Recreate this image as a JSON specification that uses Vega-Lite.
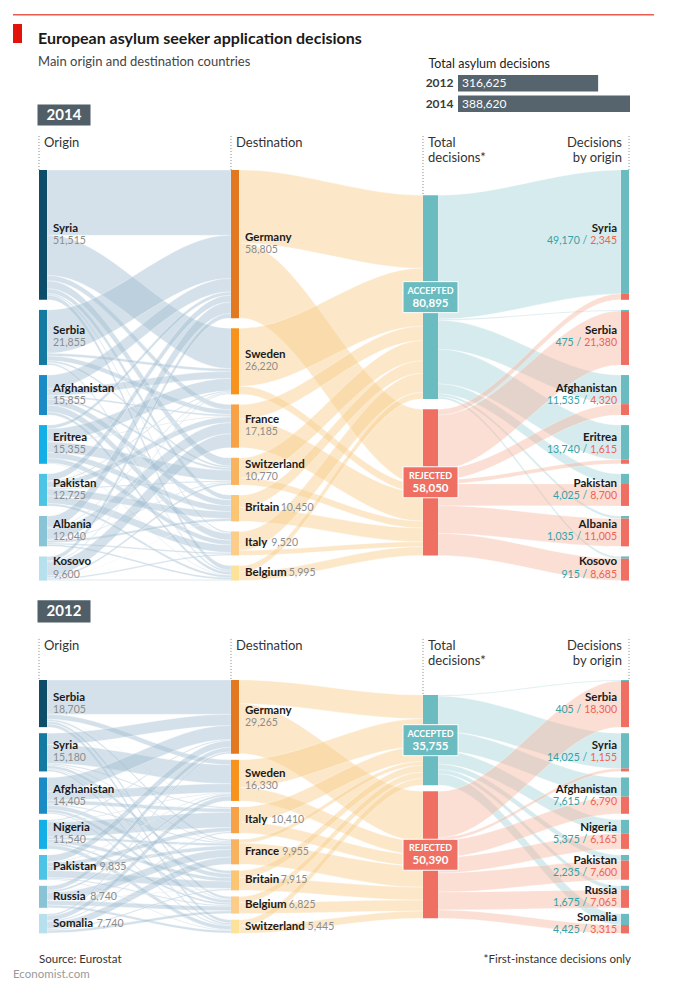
{
"$schema": "https://vega.github.io/schema/vega-lite/v6.json",
"padding": {"left": 0, "top": 12, "right": 0, "bottom": 0},
"background": "#ffffff",
"bounds": "flush",
"spacing": 0,
"config": {
  "view": {"stroke": null},
  "font": "Lato",
  "text": {"font": "Lato"},
  "title": {"font": "Lato", "subtitleFont": "Lato"},
  "axis": {"labelFont": "Lato", "titleFont": "Lato"}
},
"datasets": {
"l14": [
{"s":0,"src":"Syria","so":0,"tgt":"Germany","to":0,"v":25900},
{"s":0,"src":"Syria","so":0,"tgt":"Sweden","to":1,"v":16000},
{"s":0,"src":"Syria","so":0,"tgt":"France","to":2,"v":2100},
{"s":0,"src":"Syria","so":0,"tgt":"Switzerland","to":3,"v":3200},
{"s":0,"src":"Syria","so":0,"tgt":"Britain","to":4,"v":1900},
{"s":0,"src":"Syria","so":0,"tgt":"Italy","to":5,"v":600},
{"s":0,"src":"Syria","so":0,"tgt":"Belgium","to":6,"v":1815},
{"s":0,"src":"Serbia","so":1,"tgt":"Germany","to":0,"v":17200},
{"s":0,"src":"Serbia","so":1,"tgt":"Sweden","to":1,"v":1100},
{"s":0,"src":"Serbia","so":1,"tgt":"France","to":2,"v":1900},
{"s":0,"src":"Serbia","so":1,"tgt":"Switzerland","to":3,"v":800},
{"s":0,"src":"Serbia","so":1,"tgt":"Britain","to":4,"v":50},
{"s":0,"src":"Serbia","so":1,"tgt":"Italy","to":5,"v":150},
{"s":0,"src":"Serbia","so":1,"tgt":"Belgium","to":6,"v":655},
{"s":0,"src":"Afghanistan","so":2,"tgt":"Germany","to":0,"v":5300},
{"s":0,"src":"Afghanistan","so":2,"tgt":"Sweden","to":1,"v":2800},
{"s":0,"src":"Afghanistan","so":2,"tgt":"France","to":2,"v":700},
{"s":0,"src":"Afghanistan","so":2,"tgt":"Switzerland","to":3,"v":900},
{"s":0,"src":"Afghanistan","so":2,"tgt":"Britain","to":4,"v":2300},
{"s":0,"src":"Afghanistan","so":2,"tgt":"Italy","to":5,"v":2700},
{"s":0,"src":"Afghanistan","so":2,"tgt":"Belgium","to":6,"v":1155},
{"s":0,"src":"Eritrea","so":3,"tgt":"Germany","to":0,"v":1400},
{"s":0,"src":"Eritrea","so":3,"tgt":"Sweden","to":1,"v":5000},
{"s":0,"src":"Eritrea","so":3,"tgt":"France","to":2,"v":300},
{"s":0,"src":"Eritrea","so":3,"tgt":"Switzerland","to":3,"v":4200},
{"s":0,"src":"Eritrea","so":3,"tgt":"Britain","to":4,"v":2300},
{"s":0,"src":"Eritrea","so":3,"tgt":"Italy","to":5,"v":1900},
{"s":0,"src":"Eritrea","so":3,"tgt":"Belgium","to":6,"v":255},
{"s":0,"src":"Pakistan","so":4,"tgt":"Germany","to":0,"v":2700},
{"s":0,"src":"Pakistan","so":4,"tgt":"Sweden","to":1,"v":500},
{"s":0,"src":"Pakistan","so":4,"tgt":"France","to":2,"v":2300},
{"s":0,"src":"Pakistan","so":4,"tgt":"Switzerland","to":3,"v":500},
{"s":0,"src":"Pakistan","so":4,"tgt":"Britain","to":4,"v":2800},
{"s":0,"src":"Pakistan","so":4,"tgt":"Italy","to":5,"v":3000},
{"s":0,"src":"Pakistan","so":4,"tgt":"Belgium","to":6,"v":925},
{"s":0,"src":"Albania","so":5,"tgt":"Germany","to":0,"v":4500},
{"s":0,"src":"Albania","so":5,"tgt":"Sweden","to":1,"v":400},
{"s":0,"src":"Albania","so":5,"tgt":"France","to":2,"v":4400},
{"s":0,"src":"Albania","so":5,"tgt":"Switzerland","to":3,"v":370},
{"s":0,"src":"Albania","so":5,"tgt":"Britain","to":4,"v":1000},
{"s":0,"src":"Albania","so":5,"tgt":"Italy","to":5,"v":600},
{"s":0,"src":"Albania","so":5,"tgt":"Belgium","to":6,"v":770},
{"s":0,"src":"Kosovo","so":6,"tgt":"Germany","to":0,"v":1805},
{"s":0,"src":"Kosovo","so":6,"tgt":"Sweden","to":1,"v":420},
{"s":0,"src":"Kosovo","so":6,"tgt":"France","to":2,"v":5485},
{"s":0,"src":"Kosovo","so":6,"tgt":"Switzerland","to":3,"v":800},
{"s":0,"src":"Kosovo","so":6,"tgt":"Britain","to":4,"v":100},
{"s":0,"src":"Kosovo","so":6,"tgt":"Italy","to":5,"v":570},
{"s":0,"src":"Kosovo","so":6,"tgt":"Belgium","to":6,"v":420},
{"s":1,"src":"Germany","so":0,"tgt":"Accepted","to":0,"v":29000},
{"s":1,"src":"Germany","so":0,"tgt":"Rejected","to":1,"v":29805},
{"s":1,"src":"Sweden","so":1,"tgt":"Accepted","to":0,"v":23000},
{"s":1,"src":"Sweden","so":1,"tgt":"Rejected","to":1,"v":3220},
{"s":1,"src":"France","so":2,"tgt":"Accepted","to":0,"v":5800},
{"s":1,"src":"France","so":2,"tgt":"Rejected","to":1,"v":11385},
{"s":1,"src":"Switzerland","so":3,"tgt":"Accepted","to":0,"v":8000},
{"s":1,"src":"Switzerland","so":3,"tgt":"Rejected","to":1,"v":2770},
{"s":1,"src":"Britain","so":4,"tgt":"Accepted","to":0,"v":5000},
{"s":1,"src":"Britain","so":4,"tgt":"Rejected","to":1,"v":5450},
{"s":1,"src":"Italy","so":5,"tgt":"Accepted","to":0,"v":7500},
{"s":1,"src":"Italy","so":5,"tgt":"Rejected","to":1,"v":2020},
{"s":1,"src":"Belgium","so":6,"tgt":"Accepted","to":0,"v":2595},
{"s":1,"src":"Belgium","so":6,"tgt":"Rejected","to":1,"v":3400},
{"s":2,"src":"Accepted","so":0,"tgt":"Syria","to":0,"v":49170},
{"s":2,"src":"Accepted","so":0,"tgt":"Serbia","to":1,"v":475},
{"s":2,"src":"Accepted","so":0,"tgt":"Afghanistan","to":2,"v":11535},
{"s":2,"src":"Accepted","so":0,"tgt":"Eritrea","to":3,"v":13740},
{"s":2,"src":"Accepted","so":0,"tgt":"Pakistan","to":4,"v":4025},
{"s":2,"src":"Accepted","so":0,"tgt":"Albania","to":5,"v":1035},
{"s":2,"src":"Accepted","so":0,"tgt":"Kosovo","to":6,"v":915},
{"s":2,"src":"Rejected","so":1,"tgt":"Syria","to":0,"v":2345},
{"s":2,"src":"Rejected","so":1,"tgt":"Serbia","to":1,"v":21380},
{"s":2,"src":"Rejected","so":1,"tgt":"Afghanistan","to":2,"v":4320},
{"s":2,"src":"Rejected","so":1,"tgt":"Eritrea","to":3,"v":1615},
{"s":2,"src":"Rejected","so":1,"tgt":"Pakistan","to":4,"v":8700},
{"s":2,"src":"Rejected","so":1,"tgt":"Albania","to":5,"v":11005},
{"s":2,"src":"Rejected","so":1,"tgt":"Kosovo","to":6,"v":8685}
],
"l12": [
{"s":0,"src":"Serbia","so":0,"tgt":"Germany","to":0,"v":13600},
{"s":0,"src":"Serbia","so":0,"tgt":"Sweden","to":1,"v":2000},
{"s":0,"src":"Serbia","so":0,"tgt":"Italy","to":2,"v":100},
{"s":0,"src":"Serbia","so":0,"tgt":"France","to":3,"v":700},
{"s":0,"src":"Serbia","so":0,"tgt":"Britain","to":4,"v":50},
{"s":0,"src":"Serbia","so":0,"tgt":"Belgium","to":5,"v":1000},
{"s":0,"src":"Serbia","so":0,"tgt":"Switzerland","to":6,"v":1255},
{"s":0,"src":"Syria","so":1,"tgt":"Germany","to":0,"v":4500},
{"s":0,"src":"Syria","so":1,"tgt":"Sweden","to":1,"v":7500},
{"s":0,"src":"Syria","so":1,"tgt":"Italy","to":2,"v":500},
{"s":0,"src":"Syria","so":1,"tgt":"France","to":3,"v":400},
{"s":0,"src":"Syria","so":1,"tgt":"Britain","to":4,"v":1200},
{"s":0,"src":"Syria","so":1,"tgt":"Belgium","to":5,"v":400},
{"s":0,"src":"Syria","so":1,"tgt":"Switzerland","to":6,"v":680},
{"s":0,"src":"Afghanistan","so":2,"tgt":"Germany","to":0,"v":5500},
{"s":0,"src":"Afghanistan","so":2,"tgt":"Sweden","to":1,"v":3500},
{"s":0,"src":"Afghanistan","so":2,"tgt":"Italy","to":2,"v":1500},
{"s":0,"src":"Afghanistan","so":2,"tgt":"France","to":3,"v":500},
{"s":0,"src":"Afghanistan","so":2,"tgt":"Britain","to":4,"v":1700},
{"s":0,"src":"Afghanistan","so":2,"tgt":"Belgium","to":5,"v":1205},
{"s":0,"src":"Afghanistan","so":2,"tgt":"Switzerland","to":6,"v":500},
{"s":0,"src":"Nigeria","so":3,"tgt":"Germany","to":0,"v":500},
{"s":0,"src":"Nigeria","so":3,"tgt":"Sweden","to":1,"v":300},
{"s":0,"src":"Nigeria","so":3,"tgt":"Italy","to":2,"v":6000},
{"s":0,"src":"Nigeria","so":3,"tgt":"France","to":3,"v":1000},
{"s":0,"src":"Nigeria","so":3,"tgt":"Britain","to":4,"v":1400},
{"s":0,"src":"Nigeria","so":3,"tgt":"Belgium","to":5,"v":800},
{"s":0,"src":"Nigeria","so":3,"tgt":"Switzerland","to":6,"v":1540},
{"s":0,"src":"Pakistan","so":4,"tgt":"Germany","to":0,"v":2700},
{"s":0,"src":"Pakistan","so":4,"tgt":"Sweden","to":1,"v":300},
{"s":0,"src":"Pakistan","so":4,"tgt":"Italy","to":2,"v":1700},
{"s":0,"src":"Pakistan","so":4,"tgt":"France","to":3,"v":1500},
{"s":0,"src":"Pakistan","so":4,"tgt":"Britain","to":4,"v":2800},
{"s":0,"src":"Pakistan","so":4,"tgt":"Belgium","to":5,"v":500},
{"s":0,"src":"Pakistan","so":4,"tgt":"Switzerland","to":6,"v":335},
{"s":0,"src":"Russia","so":5,"tgt":"Germany","to":0,"v":1800},
{"s":0,"src":"Russia","so":5,"tgt":"Sweden","to":1,"v":800},
{"s":0,"src":"Russia","so":5,"tgt":"Italy","to":2,"v":100},
{"s":0,"src":"Russia","so":5,"tgt":"France","to":3,"v":3000},
{"s":0,"src":"Russia","so":5,"tgt":"Britain","to":4,"v":200},
{"s":0,"src":"Russia","so":5,"tgt":"Belgium","to":5,"v":1800},
{"s":0,"src":"Russia","so":5,"tgt":"Switzerland","to":6,"v":1040},
{"s":0,"src":"Somalia","so":6,"tgt":"Germany","to":0,"v":665},
{"s":0,"src":"Somalia","so":6,"tgt":"Sweden","to":1,"v":1930},
{"s":0,"src":"Somalia","so":6,"tgt":"Italy","to":2,"v":510},
{"s":0,"src":"Somalia","so":6,"tgt":"France","to":3,"v":2855},
{"s":0,"src":"Somalia","so":6,"tgt":"Britain","to":4,"v":565},
{"s":0,"src":"Somalia","so":6,"tgt":"Belgium","to":5,"v":1120},
{"s":0,"src":"Somalia","so":6,"tgt":"Switzerland","to":6,"v":95},
{"s":1,"src":"Germany","so":0,"tgt":"Accepted","to":0,"v":9400},
{"s":1,"src":"Germany","so":0,"tgt":"Rejected","to":1,"v":19865},
{"s":1,"src":"Sweden","so":1,"tgt":"Accepted","to":0,"v":11000},
{"s":1,"src":"Sweden","so":1,"tgt":"Rejected","to":1,"v":5330},
{"s":1,"src":"Italy","so":2,"tgt":"Accepted","to":0,"v":6000},
{"s":1,"src":"Italy","so":2,"tgt":"Rejected","to":1,"v":4410},
{"s":1,"src":"France","so":3,"tgt":"Accepted","to":0,"v":1500},
{"s":1,"src":"France","so":3,"tgt":"Rejected","to":1,"v":8455},
{"s":1,"src":"Britain","so":4,"tgt":"Accepted","to":0,"v":2800},
{"s":1,"src":"Britain","so":4,"tgt":"Rejected","to":1,"v":5115},
{"s":1,"src":"Belgium","so":5,"tgt":"Accepted","to":0,"v":2500},
{"s":1,"src":"Belgium","so":5,"tgt":"Rejected","to":1,"v":4325},
{"s":1,"src":"Switzerland","so":6,"tgt":"Accepted","to":0,"v":2555},
{"s":1,"src":"Switzerland","so":6,"tgt":"Rejected","to":1,"v":2890},
{"s":2,"src":"Accepted","so":0,"tgt":"Serbia","to":0,"v":405},
{"s":2,"src":"Accepted","so":0,"tgt":"Syria","to":1,"v":14025},
{"s":2,"src":"Accepted","so":0,"tgt":"Afghanistan","to":2,"v":7615},
{"s":2,"src":"Accepted","so":0,"tgt":"Nigeria","to":3,"v":5375},
{"s":2,"src":"Accepted","so":0,"tgt":"Pakistan","to":4,"v":2235},
{"s":2,"src":"Accepted","so":0,"tgt":"Russia","to":5,"v":1675},
{"s":2,"src":"Accepted","so":0,"tgt":"Somalia","to":6,"v":4425},
{"s":2,"src":"Rejected","so":1,"tgt":"Serbia","to":0,"v":18300},
{"s":2,"src":"Rejected","so":1,"tgt":"Syria","to":1,"v":1155},
{"s":2,"src":"Rejected","so":1,"tgt":"Afghanistan","to":2,"v":6790},
{"s":2,"src":"Rejected","so":1,"tgt":"Nigeria","to":3,"v":6165},
{"s":2,"src":"Rejected","so":1,"tgt":"Pakistan","to":4,"v":7600},
{"s":2,"src":"Rejected","so":1,"tgt":"Russia","to":5,"v":7065},
{"s":2,"src":"Rejected","so":1,"tgt":"Somalia","to":6,"v":3315}
]
},
"vconcat": [
{"hconcat": [
  {"width": 13, "height": 1.5, "data": {"values": [{}]}, "mark": {"type": "point", "opacity": 0}, "encoding": {}},
  {"width": 641, "height": 1.5, "view": {"fill": "#ec5b50", "stroke": null}, "data": {"values": [{}]}, "mark": {"type": "point", "opacity": 0}, "encoding": {}}
 ], "spacing": 0, "bounds": "flush"},
{"width": 10, "height": 10, "data": {"values": [{}]}, "mark": {"type": "point", "opacity": 0}, "encoding": {}},
{"hconcat": [
  {"width": 13, "height": 19, "data": {"values": [{}]}, "mark": {"type": "point", "opacity": 0}, "encoding": {}},
  {"width": 9, "height": 19, "view": {"fill": "#e3120b", "stroke": null}, "data": {"values": [{}]}, "mark": {"type": "point", "opacity": 0}, "encoding": {}}
 ], "spacing": 0, "bounds": "flush"},
{"width": 673, "height": 90,
 "data": {"values": [{"yr": "2012", "t": 316625}, {"yr": "2014", "t": 388620}]},
 "title": {"text": "European asylum seeker application decisions", "subtitle": "Main origin and destination countries", "anchor": "start", "frame": "group", "orient": "top", "offset": 0, "dx": 38, "dy": 45, "fontSize": 16, "fontWeight": "bold", "color": "#1a1a1a", "subtitleFontSize": 13, "subtitleColor": "#444444", "subtitlePadding": 9},
 "encoding": {"y": {"field": "yr", "type": "nominal", "scale": {"domain": ["2012", "2014"], "range": [51, 88], "paddingInner": 0.2, "paddingOuter": 0},
    "axis": {"orient": "left", "offset": -456, "domain": false, "ticks": false, "tickSize": 0, "labelPadding": 3, "labelFontWeight": "bold", "labelFontSize": 12, "labelColor": "#3a3a3a", "title": "Total asylum decisions", "titleAngle": 0, "titleAlign": "left", "titleBaseline": "middle", "titleX": -28, "titleY": 39, "titleFontSize": 12.5, "titleFontWeight": "normal", "titleColor": "#222222"}}},
 "layer": [
   {"mark": {"type": "bar", "color": "#56646d"}, "encoding": {"x": {"field": "t", "type": "quantitative", "scale": {"domain": [0, 388620], "range": [458, 630], "nice": false, "zero": true}, "axis": null}}},
   {"mark": {"type": "text", "align": "left", "baseline": "middle", "dx": 4, "color": "#ffffff", "fontSize": 12}, "encoding": {"x": {"datum": 0, "type": "quantitative"}, "text": {"field": "t", "type": "quantitative", "format": ","}}}
 ]},
{"width": 673, "height": 476,
 "data": {"name": "l14"},
 "transform": [
  {"window": [{"op": "sum", "field": "v", "as": "cs"}], "groupby": ["s"], "sort": [{"field": "so"}, {"field": "to"}]},
  {"window": [{"op": "sum", "field": "v", "as": "ct"}], "groupby": ["s"], "sort": [{"field": "to"}, {"field": "so"}]},
  {"calculate": "datum.cs - datum.v + datum.so * 4000 + (datum.s == 2 ? 10000 : 0)", "as": "a0"},
  {"calculate": "datum.a0 + datum.v", "as": "a1"},
  {"calculate": "datum.ct - datum.v + datum.to * 4000 + (datum.s == 1 ? 10000 : 0)", "as": "b0"},
  {"calculate": "datum.b0 + datum.v", "as": "b1"}
 ],
 "layer": [
  {"transform": [
     {"calculate": "[0, 1, 2, 3]", "as": "p"},
     {"flatten": ["p"]},
     {"calculate": "datum.s + (datum.p == 0 ? 0.1 : datum.p == 1 ? 0.11 : datum.p == 2 ? 0.99 : 1)", "as": "fx"},
     {"calculate": "datum.p < 2 ? datum.a0 : datum.b0", "as": "fy"},
     {"calculate": "datum.p < 2 ? datum.a1 : datum.b1", "as": "fy2"},
     {"calculate": "datum.s + '|' + datum.src + '|' + datum.tgt", "as": "id"},
     {"calculate": "datum.s == 2 ? datum.src : 'stage' + datum.s", "as": "fc"}
   ],
   "mark": {"type": "area", "interpolate": "monotone", "fillOpacity": 0.45, "stroke": "#ffffff", "strokeWidth": 0.5, "strokeOpacity": 0.6},
   "encoding": {
     "x": {"field": "fx", "type": "quantitative", "scale": {"domain": [0, 0.1, 1, 1.1, 2, 2.1, 3, 3.1], "range": [39, 47, 231, 239, 423, 438, 621, 629], "nice": false, "zero": false}, "axis": null},
     "y": {"field": "fy", "type": "quantitative", "scale": {"domain": [0, 160000], "range": [56, 459.2], "nice": false, "zero": false}, "axis": null, "stack": null},
     "y2": {"field": "fy2"},
     "detail": {"field": "id", "type": "nominal"},
     "fill": {"field": "fc", "type": "nominal", "scale": {"domain": ["stage0", "stage1", "Accepted", "Rejected"], "range": ["#9fbdd0", "#f8cb88", "#a4d3d7", "#f6b69f"]}, "legend": null}
   }},
  {"transform": [
     {"aggregate": [{"op": "min", "field": "a0", "as": "y0"}, {"op": "max", "field": "a1", "as": "y1"}], "groupby": ["s", "src", "so"]},
     {"calculate": "datum.s + 0.1", "as": "xe"},
     {"calculate": "datum.s * 10 + datum.so", "as": "ck"}
   ],
   "mark": {"type": "rect"},
   "encoding": {
     "x": {"field": "s", "type": "quantitative", "axis": null},
     "x2": {"field": "xe"},
     "y": {"field": "y0", "type": "quantitative", "axis": null},
     "y2": {"field": "y1"},
     "color": {"field": "ck", "type": "nominal", "scale": {"domain": [0, 1, 2, 3, 4, 5, 6, 10, 11, 12, 13, 14, 15, 16, 20, 21], "range": ["#0d4d69", "#157aa1", "#1b8bc5", "#13afe6", "#4dc3e5", "#88c4d6", "#b7e0ef", "#e2781f", "#f7931d", "#f8a247", "#f9b35e", "#fbc574", "#fccd88", "#fde299", "#6abcc0", "#ef7062"]}, "legend": null}
   }},
  {"transform": [{"filter": "datum.s == 2"}, {"calculate": "3", "as": "x3"}, {"calculate": "3.1", "as": "x3e"}, {"calculate": "datum.src == 'Accepted' ? 20 : 21", "as": "ck"}],
   "mark": {"type": "rect"},
   "encoding": {
     "x": {"field": "x3", "type": "quantitative", "axis": null},
     "x2": {"field": "x3e"},
     "y": {"field": "b0", "type": "quantitative", "axis": null},
     "y2": {"field": "b1"},
     "color": {"field": "ck", "type": "nominal", "legend": null}
   }},
  {"transform": [
     {"filter": "datum.s == 2"},
     {"aggregate": [{"op": "min", "field": "a0", "as": "y0"}, {"op": "max", "field": "a1", "as": "y1"}, {"op": "sum", "field": "v", "as": "tot"}], "groupby": ["src"]},
     {"calculate": "(datum.y0 + datum.y1) / 2", "as": "ym"},
     {"calculate": "upper(datum.src)", "as": "lab"},
     {"calculate": "2.05", "as": "bx"},
     {"calculate": "datum.src == 'Accepted' ? 20 : 21", "as": "ck"}
   ],
   "encoding": {"x": {"field": "bx", "type": "quantitative", "axis": null}, "y": {"field": "ym", "type": "quantitative", "axis": null}},
   "layer": [
     {"mark": {"type": "point", "shape": "M-1,-0.5636H1V0.5636H-1Z", "size": 3025, "filled": true, "opacity": 1, "stroke": "#ffffff", "strokeWidth": 1}, "encoding": {"color": {"field": "ck", "type": "nominal", "legend": null}}},
     {"mark": {"type": "text", "baseline": "middle", "dy": -6.5, "fontSize": 9, "fontWeight": "bold", "color": "#ffffff"}, "encoding": {"text": {"field": "lab", "type": "nominal"}}},
     {"mark": {"type": "text", "baseline": "middle", "dy": 6.5, "fontSize": 11.5, "fontWeight": "bold", "color": "#ffffff"}, "encoding": {"text": {"field": "tot", "type": "quantitative", "format": ","}}}
   ]},
  {"transform": [
     {"filter": "datum.s < 2"},
     {"aggregate": [{"op": "min", "field": "a0", "as": "y0"}, {"op": "max", "field": "a1", "as": "y1"}, {"op": "sum", "field": "v", "as": "tot"}], "groupby": ["s", "src"]},
     {"calculate": "datum.s == 0 || datum.tot > 10600", "as": "two"},
     {"calculate": "(datum.y0 + datum.y1) / 2 - (datum.two ? 2400 : 0)", "as": "yn"},
     {"calculate": "(datum.y0 + datum.y1) / 2 + (datum.two ? 2400 : 0)", "as": "yv"},
     {"calculate": "length(datum.src) - length(replace(datum.src, regexp('[iltfjrI]', 'g'), ''))", "as": "nn"},
     {"calculate": "length(datum.src) - length(replace(datum.src, regexp('[mwMW]', 'g'), ''))", "as": "nm"},
     {"calculate": "datum.nn * 3.45 + (length(datum.src) - datum.nn) * 5.95 + datum.nm * 3.1", "as": "w"},
     {"calculate": "datum.s + 0.1 + 6 / 204.44", "as": "xn"},
     {"calculate": "datum.two ? datum.xn : datum.xn + (datum.w + 4) / 204.44", "as": "xv"}
   ],
   "layer": [
     {"mark": {"type": "text", "align": "left", "baseline": "middle", "fontSize": 11.5, "fontWeight": "bold", "color": "#1a1a1a"}, "encoding": {"x": {"field": "xn", "type": "quantitative", "axis": null}, "y": {"field": "yn", "type": "quantitative", "axis": null}, "text": {"field": "src", "type": "nominal"}}},
     {"mark": {"type": "text", "align": "left", "baseline": "middle", "fontSize": 10.5, "color": "#8c8c8c"}, "encoding": {"x": {"field": "xv", "type": "quantitative", "axis": null}, "y": {"field": "yv", "type": "quantitative", "axis": null}, "text": {"field": "tot", "type": "quantitative", "format": ","}}}
   ]},
  {"transform": [
     {"filter": "datum.s == 2"},
     {"calculate": "datum.src == 'Accepted' ? datum.v : 0", "as": "va"},
     {"calculate": "datum.src == 'Rejected' ? datum.v : 0", "as": "vr"},
     {"aggregate": [{"op": "min", "field": "b0", "as": "y0"}, {"op": "max", "field": "b1", "as": "y1"}, {"op": "sum", "field": "va", "as": "A"}, {"op": "sum", "field": "vr", "as": "R"}], "groupby": ["tgt"]},
     {"calculate": "(datum.y0 + datum.y1) / 2 - 2400", "as": "yn"},
     {"calculate": "(datum.y0 + datum.y1) / 2 + 2400", "as": "yv"},
     {"calculate": "3 - 4 / 203.33", "as": "xr"},
     {"calculate": "length(toString(datum.R))", "as": "nd"},
     {"calculate": "3 - (4 + datum.nd * 6.09 + floor((datum.nd - 1) / 3) * 2.4 + 3) / 203.33", "as": "xa"},
     {"calculate": "format(datum.A, ',') + ' /'", "as": "ta"}
   ],
   "layer": [
     {"mark": {"type": "text", "align": "right", "baseline": "middle", "fontSize": 11.5, "fontWeight": "bold", "color": "#1a1a1a"}, "encoding": {"x": {"field": "xr", "type": "quantitative", "axis": null}, "y": {"field": "yn", "type": "quantitative", "axis": null}, "text": {"field": "tgt", "type": "nominal"}}},
     {"mark": {"type": "text", "align": "right", "baseline": "middle", "fontSize": 10.5, "color": "#33a2a6"}, "encoding": {"x": {"field": "xa", "type": "quantitative", "axis": null}, "y": {"field": "yv", "type": "quantitative", "axis": null}, "text": {"field": "ta", "type": "nominal"}}},
     {"mark": {"type": "text", "align": "right", "baseline": "middle", "fontSize": 10.5, "color": "#ee6352"}, "encoding": {"x": {"field": "xr", "type": "quantitative", "axis": null}, "y": {"field": "yv", "type": "quantitative", "axis": null}, "text": {"field": "R", "type": "quantitative", "format": ","}}}
   ]},
  {"transform": [
     {"aggregate": [{"op": "min", "field": "a0", "as": "top"}, {"op": "min", "field": "b0", "as": "tb"}], "groupby": ["s"]},
     {"calculate": "-13500", "as": "ht"},
     {"calculate": "datum.s == 2 ? [datum.s, 3.1] : [datum.s]", "as": "rx"},
     {"flatten": ["rx"]},
     {"calculate": "datum.rx > 3 ? datum.tb : datum.top", "as": "rt"}
   ],
   "mark": {"type": "rule", "color": "#8a8a8a", "strokeDash": [1, 2], "strokeWidth": 1},
   "encoding": {"x": {"field": "rx", "type": "quantitative", "axis": null}, "y": {"field": "ht", "type": "quantitative", "axis": null}, "y2": {"field": "rt"}}},
  {"data": {"values": [{"h": "Origin", "st": 0}, {"h": "Destination", "st": 1}, {"h": "Total\ndecisions*", "st": 2}]},
   "transform": [{"calculate": "-13500", "as": "ht"}],
   "mark": {"type": "text", "align": "left", "baseline": "top", "dx": 5, "dy": 1, "fontSize": 13, "lineBreak": "\n", "lineHeight": 15.5, "color": "#333333"},
   "encoding": {"x": {"field": "st", "type": "quantitative", "axis": null}, "y": {"field": "ht", "type": "quantitative", "axis": null}, "text": {"field": "h", "type": "nominal"}}},
  {"data": {"values": [{"h": "Decisions\nby origin", "st": 3.1}]},
   "transform": [{"calculate": "-13500", "as": "ht"}],
   "mark": {"type": "text", "align": "right", "baseline": "top", "dx": -7, "dy": 1, "fontSize": 13, "lineBreak": "\n", "lineHeight": 15.5, "color": "#333333"},
   "encoding": {"x": {"field": "st", "type": "quantitative", "axis": null}, "y": {"field": "ht", "type": "quantitative", "axis": null}, "text": {"field": "h", "type": "nominal"}}},
  {"data": {"values": [{"yr": "2014"}]},
   "transform": [{"calculate": "0.1832", "as": "bx"}, {"calculate": "-21800", "as": "by"}],
   "encoding": {"x": {"field": "bx", "type": "quantitative", "axis": null}, "y": {"field": "by", "type": "quantitative", "axis": null}},
   "layer": [
     {"mark": {"type": "point", "shape": "M-1,-0.396H1V0.396H-1Z", "size": 2809, "filled": true, "opacity": 1, "color": "#4f5e67"}},
     {"mark": {"type": "text", "align": "center", "baseline": "middle", "fontSize": 15, "fontWeight": "bold", "color": "#ffffff"}, "encoding": {"text": {"field": "yr", "type": "nominal"}}}
   ]}
 ]},
{"width": 673, "height": 401,
 "data": {"name": "l12"},
 "transform": [
  {"window": [{"op": "sum", "field": "v", "as": "cs"}], "groupby": ["s"], "sort": [{"field": "so"}, {"field": "to"}]},
  {"window": [{"op": "sum", "field": "v", "as": "ct"}], "groupby": ["s"], "sort": [{"field": "to"}, {"field": "so"}]},
  {"calculate": "datum.cs - datum.v + datum.so * 2400 + (datum.s == 2 ? 6000 : 0)", "as": "a0"},
  {"calculate": "datum.a0 + datum.v", "as": "a1"},
  {"calculate": "datum.ct - datum.v + datum.to * 2400 + (datum.s == 1 ? 6000 : 0)", "as": "b0"},
  {"calculate": "datum.b0 + datum.v", "as": "b1"}
 ],
 "layer": [
  {"transform": [
     {"calculate": "[0, 1, 2, 3]", "as": "p"},
     {"flatten": ["p"]},
     {"calculate": "datum.s + (datum.p == 0 ? 0.1 : datum.p == 1 ? 0.11 : datum.p == 2 ? 0.99 : 1)", "as": "fx"},
     {"calculate": "datum.p < 2 ? datum.a0 : datum.b0", "as": "fy"},
     {"calculate": "datum.p < 2 ? datum.a1 : datum.b1", "as": "fy2"},
     {"calculate": "datum.s + '|' + datum.src + '|' + datum.tgt", "as": "id"},
     {"calculate": "datum.s == 2 ? datum.src : 'stage' + datum.s", "as": "fc"}
   ],
   "mark": {"type": "area", "interpolate": "monotone", "fillOpacity": 0.45, "stroke": "#ffffff", "strokeWidth": 0.5, "strokeOpacity": 0.6},
   "encoding": {
     "x": {"field": "fx", "type": "quantitative", "scale": {"domain": [0, 0.1, 1, 1.1, 2, 2.1, 3, 3.1], "range": [39, 47, 231, 239, 423, 438, 621, 629], "nice": false, "zero": false}, "axis": null},
     "y": {"field": "fy", "type": "quantitative", "scale": {"domain": [0, 160000], "range": [90, 493.2], "nice": false, "zero": false}, "axis": null, "stack": null},
     "y2": {"field": "fy2"},
     "detail": {"field": "id", "type": "nominal"},
     "fill": {"field": "fc", "type": "nominal", "scale": {"domain": ["stage0", "stage1", "Accepted", "Rejected"], "range": ["#9fbdd0", "#f8cb88", "#a4d3d7", "#f6b69f"]}, "legend": null}
   }},
  {"transform": [
     {"aggregate": [{"op": "min", "field": "a0", "as": "y0"}, {"op": "max", "field": "a1", "as": "y1"}], "groupby": ["s", "src", "so"]},
     {"calculate": "datum.s + 0.1", "as": "xe"},
     {"calculate": "datum.s * 10 + datum.so", "as": "ck"}
   ],
   "mark": {"type": "rect"},
   "encoding": {
     "x": {"field": "s", "type": "quantitative", "axis": null},
     "x2": {"field": "xe"},
     "y": {"field": "y0", "type": "quantitative", "axis": null},
     "y2": {"field": "y1"},
     "color": {"field": "ck", "type": "nominal", "scale": {"domain": [0, 1, 2, 3, 4, 5, 6, 10, 11, 12, 13, 14, 15, 16, 20, 21], "range": ["#0d4d69", "#157aa1", "#1b8bc5", "#13afe6", "#4dc3e5", "#88c4d6", "#b7e0ef", "#e2781f", "#f7931d", "#f8a247", "#f9b35e", "#fbc574", "#fccd88", "#fde299", "#6abcc0", "#ef7062"]}, "legend": null}
   }},
  {"transform": [{"filter": "datum.s == 2"}, {"calculate": "3", "as": "x3"}, {"calculate": "3.1", "as": "x3e"}, {"calculate": "datum.src == 'Accepted' ? 20 : 21", "as": "ck"}],
   "mark": {"type": "rect"},
   "encoding": {
     "x": {"field": "x3", "type": "quantitative", "axis": null},
     "x2": {"field": "x3e"},
     "y": {"field": "b0", "type": "quantitative", "axis": null},
     "y2": {"field": "b1"},
     "color": {"field": "ck", "type": "nominal", "legend": null}
   }},
  {"transform": [
     {"filter": "datum.s == 2"},
     {"aggregate": [{"op": "min", "field": "a0", "as": "y0"}, {"op": "max", "field": "a1", "as": "y1"}, {"op": "sum", "field": "v", "as": "tot"}], "groupby": ["src"]},
     {"calculate": "(datum.y0 + datum.y1) / 2", "as": "ym"},
     {"calculate": "upper(datum.src)", "as": "lab"},
     {"calculate": "2.05", "as": "bx"},
     {"calculate": "datum.src == 'Accepted' ? 20 : 21", "as": "ck"}
   ],
   "encoding": {"x": {"field": "bx", "type": "quantitative", "axis": null}, "y": {"field": "ym", "type": "quantitative", "axis": null}},
   "layer": [
     {"mark": {"type": "point", "shape": "M-1,-0.5636H1V0.5636H-1Z", "size": 3025, "filled": true, "opacity": 1, "stroke": "#ffffff", "strokeWidth": 1}, "encoding": {"color": {"field": "ck", "type": "nominal", "legend": null}}},
     {"mark": {"type": "text", "baseline": "middle", "dy": -6.5, "fontSize": 9, "fontWeight": "bold", "color": "#ffffff"}, "encoding": {"text": {"field": "lab", "type": "nominal"}}},
     {"mark": {"type": "text", "baseline": "middle", "dy": 6.5, "fontSize": 11.5, "fontWeight": "bold", "color": "#ffffff"}, "encoding": {"text": {"field": "tot", "type": "quantitative", "format": ","}}}
   ]},
  {"transform": [
     {"filter": "datum.s < 2"},
     {"aggregate": [{"op": "min", "field": "a0", "as": "y0"}, {"op": "max", "field": "a1", "as": "y1"}, {"op": "sum", "field": "v", "as": "tot"}], "groupby": ["s", "src"]},
     {"calculate": "datum.tot > 10600", "as": "two"},
     {"calculate": "(datum.y0 + datum.y1) / 2 - (datum.two ? 2400 : 0)", "as": "yn"},
     {"calculate": "(datum.y0 + datum.y1) / 2 + (datum.two ? 2400 : 0)", "as": "yv"},
     {"calculate": "length(datum.src) - length(replace(datum.src, regexp('[iltfjrI]', 'g'), ''))", "as": "nn"},
     {"calculate": "length(datum.src) - length(replace(datum.src, regexp('[mwMW]', 'g'), ''))", "as": "nm"},
     {"calculate": "datum.nn * 3.45 + (length(datum.src) - datum.nn) * 5.95 + datum.nm * 3.1", "as": "w"},
     {"calculate": "datum.s + 0.1 + 6 / 204.44", "as": "xn"},
     {"calculate": "datum.two ? datum.xn : datum.xn + (datum.w + 4) / 204.44", "as": "xv"}
   ],
   "layer": [
     {"mark": {"type": "text", "align": "left", "baseline": "middle", "fontSize": 11.5, "fontWeight": "bold", "color": "#1a1a1a"}, "encoding": {"x": {"field": "xn", "type": "quantitative", "axis": null}, "y": {"field": "yn", "type": "quantitative", "axis": null}, "text": {"field": "src", "type": "nominal"}}},
     {"mark": {"type": "text", "align": "left", "baseline": "middle", "fontSize": 10.5, "color": "#8c8c8c"}, "encoding": {"x": {"field": "xv", "type": "quantitative", "axis": null}, "y": {"field": "yv", "type": "quantitative", "axis": null}, "text": {"field": "tot", "type": "quantitative", "format": ","}}}
   ]},
  {"transform": [
     {"filter": "datum.s == 2"},
     {"calculate": "datum.src == 'Accepted' ? datum.v : 0", "as": "va"},
     {"calculate": "datum.src == 'Rejected' ? datum.v : 0", "as": "vr"},
     {"aggregate": [{"op": "min", "field": "b0", "as": "y0"}, {"op": "max", "field": "b1", "as": "y1"}, {"op": "sum", "field": "va", "as": "A"}, {"op": "sum", "field": "vr", "as": "R"}], "groupby": ["tgt"]},
     {"calculate": "(datum.y0 + datum.y1) / 2 - 2400", "as": "yn"},
     {"calculate": "(datum.y0 + datum.y1) / 2 + 2400", "as": "yv"},
     {"calculate": "3 - 4 / 203.33", "as": "xr"},
     {"calculate": "length(toString(datum.R))", "as": "nd"},
     {"calculate": "3 - (4 + datum.nd * 6.09 + floor((datum.nd - 1) / 3) * 2.4 + 3) / 203.33", "as": "xa"},
     {"calculate": "format(datum.A, ',') + ' /'", "as": "ta"}
   ],
   "layer": [
     {"mark": {"type": "text", "align": "right", "baseline": "middle", "fontSize": 11.5, "fontWeight": "bold", "color": "#1a1a1a"}, "encoding": {"x": {"field": "xr", "type": "quantitative", "axis": null}, "y": {"field": "yn", "type": "quantitative", "axis": null}, "text": {"field": "tgt", "type": "nominal"}}},
     {"mark": {"type": "text", "align": "right", "baseline": "middle", "fontSize": 10.5, "color": "#33a2a6"}, "encoding": {"x": {"field": "xa", "type": "quantitative", "axis": null}, "y": {"field": "yv", "type": "quantitative", "axis": null}, "text": {"field": "ta", "type": "nominal"}}},
     {"mark": {"type": "text", "align": "right", "baseline": "middle", "fontSize": 10.5, "color": "#ee6352"}, "encoding": {"x": {"field": "xr", "type": "quantitative", "axis": null}, "y": {"field": "yv", "type": "quantitative", "axis": null}, "text": {"field": "R", "type": "quantitative", "format": ","}}}
   ]},
  {"transform": [
     {"aggregate": [{"op": "min", "field": "a0", "as": "top"}, {"op": "min", "field": "b0", "as": "tb"}], "groupby": ["s"]},
     {"calculate": "-16300", "as": "ht"},
     {"calculate": "datum.s == 2 ? [datum.s, 3.1] : [datum.s]", "as": "rx"},
     {"flatten": ["rx"]},
     {"calculate": "datum.rx > 3 ? datum.tb : datum.top", "as": "rt"}
   ],
   "mark": {"type": "rule", "color": "#8a8a8a", "strokeDash": [1, 2], "strokeWidth": 1},
   "encoding": {"x": {"field": "rx", "type": "quantitative", "axis": null}, "y": {"field": "ht", "type": "quantitative", "axis": null}, "y2": {"field": "rt"}}},
  {"data": {"values": [{"h": "Origin", "st": 0}, {"h": "Destination", "st": 1}, {"h": "Total\ndecisions*", "st": 2}]},
   "transform": [{"calculate": "-16300", "as": "ht"}],
   "mark": {"type": "text", "align": "left", "baseline": "top", "dx": 5, "dy": 1, "fontSize": 13, "lineBreak": "\n", "lineHeight": 15.5, "color": "#333333"},
   "encoding": {"x": {"field": "st", "type": "quantitative", "axis": null}, "y": {"field": "ht", "type": "quantitative", "axis": null}, "text": {"field": "h", "type": "nominal"}}},
  {"data": {"values": [{"h": "Decisions\nby origin", "st": 3.1}]},
   "transform": [{"calculate": "-16300", "as": "ht"}],
   "mark": {"type": "text", "align": "right", "baseline": "top", "dx": -7, "dy": 1, "fontSize": 13, "lineBreak": "\n", "lineHeight": 15.5, "color": "#333333"},
   "encoding": {"x": {"field": "st", "type": "quantitative", "axis": null}, "y": {"field": "ht", "type": "quantitative", "axis": null}, "text": {"field": "h", "type": "nominal"}}},
  {"data": {"values": [{"yr": "2012"}]},
   "transform": [{"calculate": "0.1832", "as": "bx"}, {"calculate": "-27200", "as": "by"}],
   "encoding": {"x": {"field": "bx", "type": "quantitative", "axis": null}, "y": {"field": "by", "type": "quantitative", "axis": null}},
   "layer": [
     {"mark": {"type": "point", "shape": "M-1,-0.42H1V0.42H-1Z", "size": 2809, "filled": true, "opacity": 1, "color": "#4f5e67"}},
     {"mark": {"type": "text", "align": "center", "baseline": "middle", "fontSize": 15, "fontWeight": "bold", "color": "#ffffff"}, "encoding": {"text": {"field": "yr", "type": "nominal"}}}
   ]},
  {"data": {"values": [{"t": "Source: Eurostat", "st": 0, "ty": 111100}]},
   "mark": {"type": "text", "align": "left", "baseline": "middle", "fontSize": 11.5, "color": "#333333"},
   "encoding": {"x": {"field": "st", "type": "quantitative", "axis": null}, "y": {"field": "ty", "type": "quantitative", "axis": null}, "text": {"field": "t", "type": "nominal"}}},
  {"data": {"values": [{"t": "Economist.com", "st": 0, "ty": 117100}]},
   "mark": {"type": "text", "align": "left", "baseline": "middle", "dx": -26, "fontSize": 11.5, "color": "#9a9a9a"},
   "encoding": {"x": {"field": "st", "type": "quantitative", "axis": null}, "y": {"field": "ty", "type": "quantitative", "axis": null}, "text": {"field": "t", "type": "nominal"}}},
  {"data": {"values": [{"t": "*First-instance decisions only", "st": 3.1, "ty": 111100}]},
   "mark": {"type": "text", "align": "right", "baseline": "middle", "dx": 2, "fontSize": 11.5, "color": "#333333"},
   "encoding": {"x": {"field": "st", "type": "quantitative", "axis": null}, "y": {"field": "ty", "type": "quantitative", "axis": null}, "text": {"field": "t", "type": "nominal"}}}
 ]}
]
}
